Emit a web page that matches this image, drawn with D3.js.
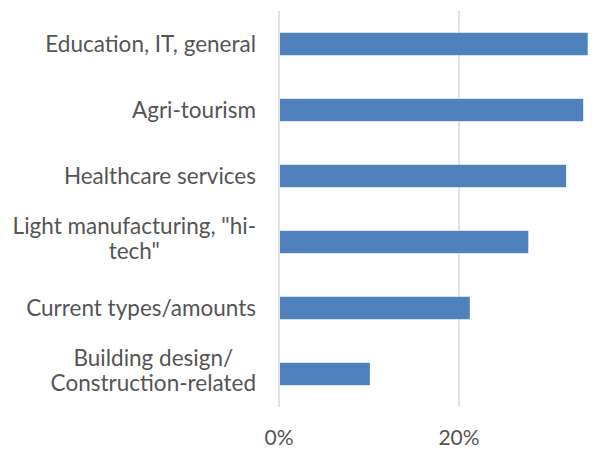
<!DOCTYPE html>
<html>
<head>
<meta charset="utf-8">
<script src="https://cdn.jsdelivr.net/npm/d3@7"></script>
<style>
  html, body { margin: 0; padding: 0; background: #ffffff; }
  svg { display: block; }
  text { font-family: Lato, "Open Sans", sans-serif; fill: #555555; }
</style>
</head>
<body>
<script>
// Categories, top to bottom, with line breaks where the label wraps
const categories = [
  ["Education, IT, general"],
  ["Agri-tourism"],
  ["Healthcare services"],
  ["Light manufacturing, \"hi-", "tech\""],
  ["Current types/amounts"],
  ["Building design/", "Construction-related"]
];
// Share of responses (%)
const values = [34.3, 33.8, 31.9, 27.7, 21.2, 10.1];
// Axis ticks (%)
const tickValues = [0, 20];
const tickLabels = ["0%", "20%"];

const width = 614, height = 449;
const margin = { top: 11, right: -25, bottom: 42, left: 279 };

const svg = d3.select("body").append("svg")
  .attr("width", width)
  .attr("height", height);

const x = d3.scaleLinear()
  .domain([0, 40])
  .range([margin.left, width - margin.right]);

const y = d3.scaleBand()
  .domain(d3.range(categories.length))
  .range([margin.top, height - margin.bottom])
  .paddingInner(0.66)
  .paddingOuter(0.33);

// Vertical gridlines
svg.append("g")
  .selectAll("line")
  .data(tickValues)
  .join("line")
  .attr("x1", d => x(d)).attr("x2", d => x(d))
  .attr("y1", margin.top).attr("y2", height - margin.bottom)
  .attr("stroke", "#d9d9d9")
  .attr("stroke-width", 1.5);

// Bars
svg.append("g")
  .selectAll("rect")
  .data(values)
  .join("rect")
  .attr("x", x(0) + 1)
  .attr("y", (d, i) => y(i))
  .attr("width", d => x(d) - x(0) - 1)
  .attr("height", y.bandwidth())
  .attr("fill", "#4f81bd");

// Category labels: single lines end at the axis gap, wrapped lines are centred
const labelRight = 256;
const lineHeight = 25;
const labels = svg.append("g").attr("font-size", 22.5);
categories.forEach((lines, i) => {
  const cy = y(i) + y.bandwidth() / 2;
  const t = labels.append("text")
    .attr("text-anchor", "middle");
  lines.forEach((ln, j) => {
    t.append("tspan")
      .attr("y", cy + (j - (lines.length - 1) / 2) * lineHeight - (lines.length > 1 ? 3 : 0))
      .attr("dy", "0.35em")
      .text(ln);
  });
  let maxW = 0;
  t.selectAll("tspan").each(function () { maxW = Math.max(maxW, this.getComputedTextLength()); });
  t.selectAll("tspan").attr("x", labelRight - maxW / 2);
});

// X axis tick labels
svg.append("g")
  .selectAll("text")
  .data(tickValues)
  .join("text")
  .attr("x", d => x(d))
  .attr("y", 438)
  .attr("dy", "0.35em")
  .attr("text-anchor", "middle")
  .attr("font-size", 21)
  .text((d, i) => tickLabels[i]);
</script>
</body>
</html>
